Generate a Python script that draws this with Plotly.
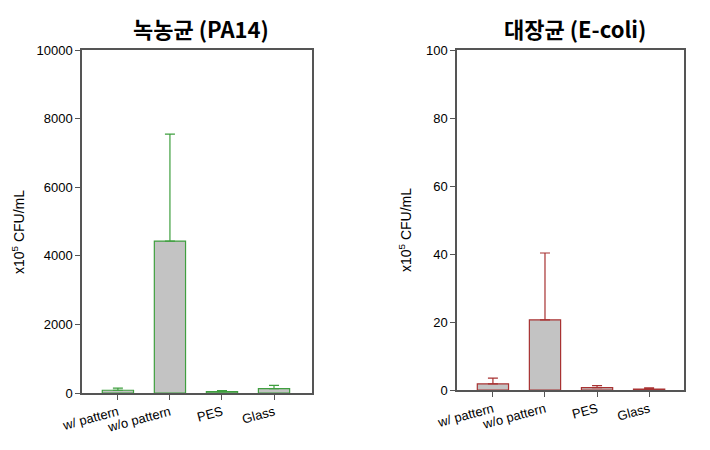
import plotly.graph_objects as go

categories = ["w/ pattern", "w/o pattern", "PES", "Glass"]
pa14_values = [80, 4430, 40, 130]
pa14_errors = [60, 3120, 30, 90]
ecoli_values = [1.8, 20.6, 0.7, 0.3]
ecoli_errors = [1.7, 19.7, 0.6, 0.3]
pa14_ticks = [0, 2000, 4000, 6000, 8000, 10000]
ecoli_ticks = [0, 20, 40, 60, 80, 100]

W, H = 710, 450
green = "#3f9f3f"
red = "#a83232"
axis_col = "#555555"

fig = go.Figure()
xs = list(range(len(categories)))
fig.add_trace(go.Bar(x=xs, y=pa14_values, width=0.6, xaxis="x", yaxis="y",
                     marker=dict(color="#c3c3c3", line=dict(color=green, width=1.2)),
                     error_y=dict(type="data", array=pa14_errors, arrayminus=[0]*4, symmetric=False,
                                  color=green, thickness=1.2, width=5),
                     showlegend=False))
fig.add_trace(go.Bar(x=xs, y=ecoli_values, width=0.6, xaxis="x2", yaxis="y2",
                     marker=dict(color="#c3c3c3", line=dict(color=red, width=1.2)),
                     error_y=dict(type="data", array=ecoli_errors, arrayminus=[0]*4, symmetric=False,
                                  color=red, thickness=1.2, width=5),
                     showlegend=False))

font = dict(family="Liberation Sans, Arial", size=13, color="black")
xcommon = dict(tickmode="array", tickvals=xs, ticktext=categories, tickangle=-15,
               ticks="outside", ticklen=5, tickcolor=axis_col, showline=True, linecolor=axis_col,
               linewidth=1.5, mirror=True, showgrid=False, zeroline=False, tickfont=font,
               automargin=False)
ycommon = dict(ticks="outside", ticklen=5, tickcolor=axis_col, showline=True, linecolor=axis_col,
               linewidth=1.5, mirror=True, showgrid=False, zeroline=False, tickfont=font,
               automargin=False, tickmode="array")

fig.update_layout(
    width=W, height=H, margin=dict(l=0, r=0, t=0, b=0, autoexpand=False),
    plot_bgcolor="white", paper_bgcolor="white", bargap=0.4,
    xaxis=dict(domain=[82/W, 312/W], range=[-0.69, 3.73], anchor="y", **xcommon),
    yaxis=dict(domain=[1-393/H, 1-50/H], range=[0, 10000], tickvals=pa14_ticks,
               ticktext=[str(t) for t in pa14_ticks], anchor="x", **ycommon),
    xaxis2=dict(domain=[457/W, 684/W], range=[-0.69, 3.67], anchor="y2", **xcommon),
    yaxis2=dict(domain=[1-390/H, 1-50/H], range=[0, 100], tickvals=ecoli_ticks,
                ticktext=[str(t) for t in ecoli_ticks], anchor="x2", **ycommon),
)

tfont = dict(family="Noto Sans CJK KR", size=22, color="black")
fig.add_annotation(text="<b>녹농균 (PA14)</b>", x=201/W, y=1-28/H, xref="paper", yref="paper",
                   xanchor="center", yanchor="middle", showarrow=False, font=tfont)
fig.add_annotation(text="<b>대장균 (E-coli)</b>", x=575/W, y=1-28/H, xref="paper", yref="paper",
                   xanchor="center", yanchor="middle", showarrow=False, font=tfont)
lfont = dict(family="Liberation Sans, Arial", size=14, color="black")
fig.add_annotation(text="x10<sup>5</sup> CFU/mL", x=18/W, y=1-232/H, xref="paper", yref="paper",
                   xanchor="center", yanchor="middle", showarrow=False, textangle=-90, font=lfont)
fig.add_annotation(text="x10<sup>5</sup> CFU/mL", x=405/W, y=1-230/H, xref="paper", yref="paper",
                   xanchor="center", yanchor="middle", showarrow=False, textangle=-90, font=lfont)

fig.write_html("out.html")
